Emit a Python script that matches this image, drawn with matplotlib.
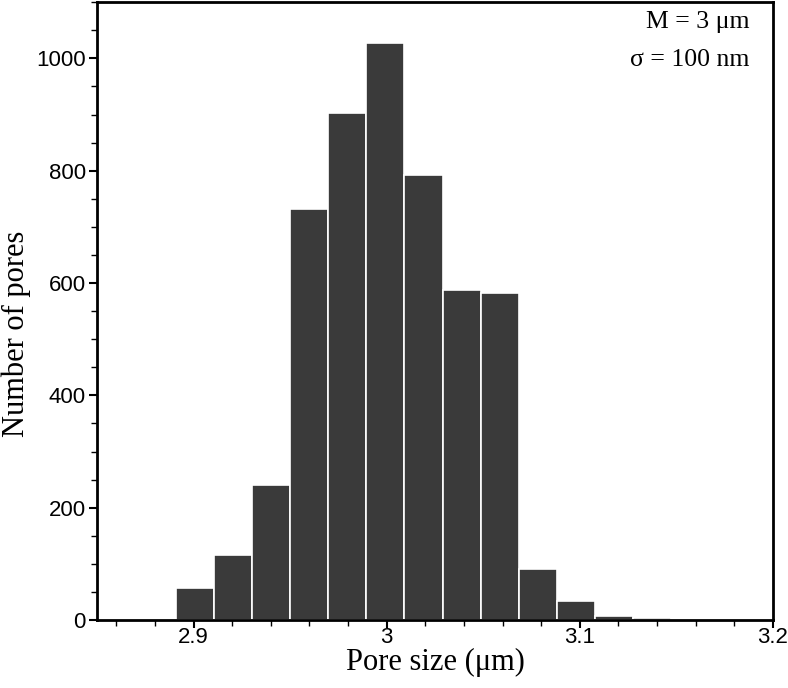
import numpy as np
import matplotlib
matplotlib.use("Agg")
import matplotlib.pyplot as plt
from matplotlib.ticker import MultipleLocator

# histogram of pore sizes (um), bins
bin_start = 2.891
bin_width = 0.0197
counts = [57, 116, 241, 732, 902, 1028, 793, 587, 582, 91, 34, 7, 4]

edges = bin_start + bin_width * np.arange(len(counts) + 1)

fig = plt.figure(figsize=(7.88, 6.88), dpi=100)
ax = fig.add_axes([0.123, 0.0988, 0.858, 0.898])

ax.bar(edges[:-1], counts, width=bin_width, align='edge',
       color='#3a3a3a', edgecolor='white', linewidth=1.2)

ax.set_xlim(2.85, 3.2)
ax.set_ylim(0, 1100)
ax.xaxis.set_major_locator(MultipleLocator(0.1))
ax.xaxis.set_minor_locator(MultipleLocator(0.02))
ax.yaxis.set_major_locator(MultipleLocator(200))
ax.yaxis.set_minor_locator(MultipleLocator(50))
ax.set_xticks([2.9, 3.0, 3.1, 3.2])
ax.set_xticklabels(['2.9', '3', '3.1', '3.2'])

for s in ax.spines.values():
    s.set_linewidth(2)
ax.tick_params(which='major', direction='out', length=6, width=1.5,
               labelsize=16, pad=2)
ax.tick_params(which='minor', direction='out', length=4, width=1)
ax.tick_params(axis='x', which='major', pad=-1)
for lab in ax.get_xticklabels() + ax.get_yticklabels():
    lab.set_family('Liberation Sans')

ax.set_xlabel('Pore size (\u03bcm)', family='Liberation Serif', fontsize=22,
              labelpad=0)
ax.set_ylabel('Number of pores', family='Liberation Serif', fontsize=22)
ax.yaxis.set_label_coords(-0.098, 0.463)

ax.text(0.965, 0.985, 'M = 3 \u03bcm', transform=ax.transAxes, ha='right',
        va='top', family='Liberation Serif', fontsize=18.5)
ax.text(0.965, 0.925, '\u03c3 = 100 nm', transform=ax.transAxes, ha='right',
        va='top', family='Liberation Serif', fontsize=18.5)

fig.savefig('out.png', dpi=100)
